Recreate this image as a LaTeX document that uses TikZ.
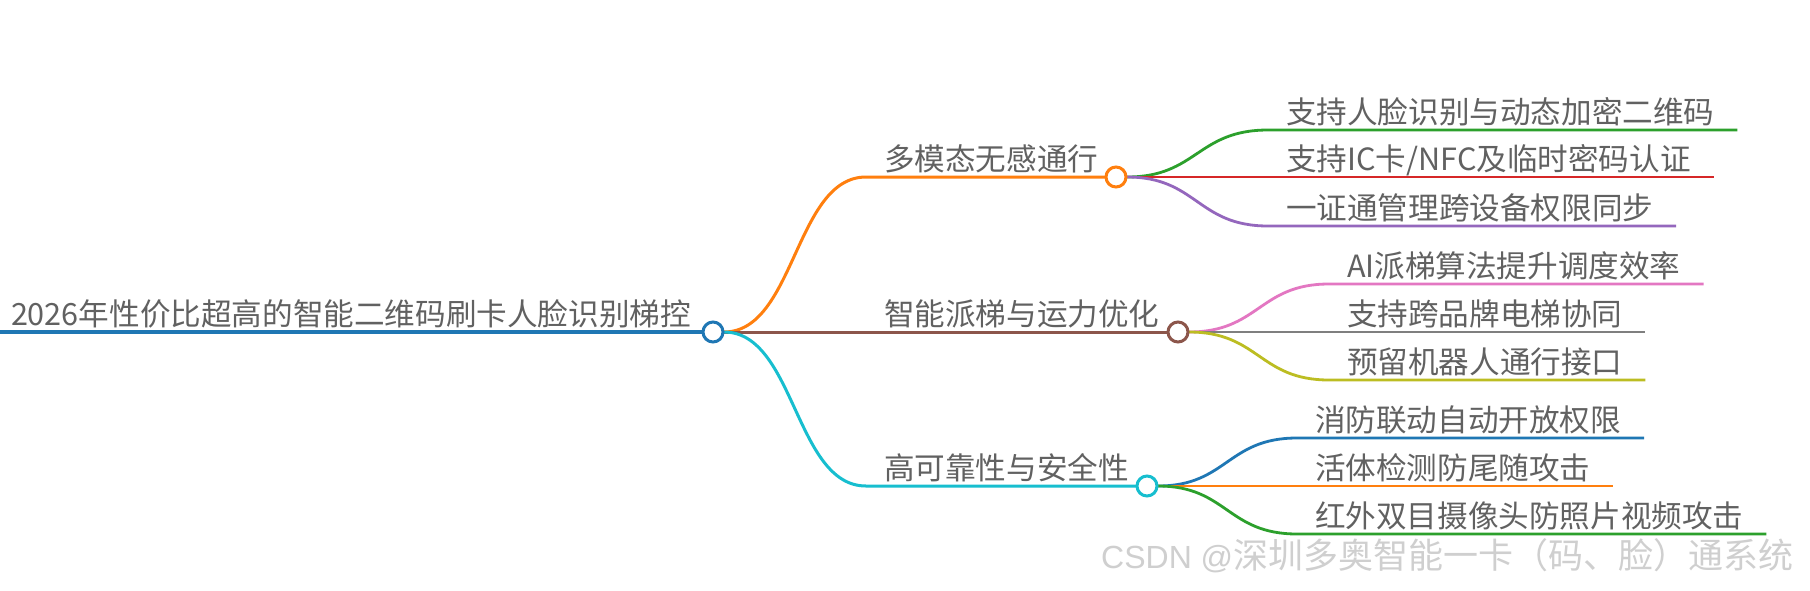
\documentclass[tikz,border=0pt]{standalone}
\usepackage{fontspec}
\setmainfont{Noto Sans CJK SC}
\newfontfamily\wmlatin{Liberation Sans}
\definecolor{tx}{HTML}{616161}
\definecolor{wm}{HTML}{CFCFCF}
\definecolor{cBlue}{HTML}{1F77B4}
\definecolor{cOrange}{HTML}{FF7F0E}
\definecolor{cGreen}{HTML}{2CA02C}
\definecolor{cRed}{HTML}{D62728}
\definecolor{cPurple}{HTML}{9467BD}
\definecolor{cBrown}{HTML}{8C564B}
\definecolor{cPink}{HTML}{E377C2}
\definecolor{cGray}{HTML}{7F7F7F}
\definecolor{cOlive}{HTML}{BCBD22}
\definecolor{cCyan}{HTML}{17BECF}
\begin{document}
\begin{tikzpicture}[x=1pt,y=-1pt,
  lbl/.style={anchor=base west, inner sep=0pt, outer sep=0pt, text=tx, font=\fontsize{30.6}{36}\selectfont},
  dot/.style={circle, draw=#1, fill=white, line width=3pt, minimum size=20pt, inner sep=0pt},
  br/.style={draw=#1, line width=3pt},
  lf/.style={draw=#1, line width=2.8pt}]
\fill[white] (0,0) rectangle (1810,590);
\useasboundingbox (0,0) rectangle (1810,590);

% root
\coordinate (r0) at (0,332);
\node[lbl] (rt) at (11,325) {2026年性价比超高的智能二维码刷卡人脸识别梯控};
\draw[br=cBlue, line width=3.6pt] (r0) -- (713,332);

% level 1 coordinates and labels
\coordinate (ha) at (866,177);
\coordinate (hb) at (866,332);
\coordinate (hc) at (866,486);
\node[lbl] (ta) at (884,170) {多模态无感通行};
\node[lbl] (tb) at (884,325) {智能派梯与运力优化};
\node[lbl] (tc) at (884,479) {高可靠性与安全性};

\draw[br=cOrange] (724,332) .. controls (795,332) and (795,177) .. (ha) -- (1116,177);
\draw[br=cBrown] (724,332) -- (hb) -- (1178,332);
\draw[br=cCyan] (724,332) .. controls (795,332) and (795,486) .. (hc) -- (1147,486);

% leaves of A
\coordinate (a1) at (1268,130);
\coordinate (a2) at (1268,177);
\coordinate (a3) at (1268,226);
\node[lbl] (la1) at (1286,123) {支持人脸识别与动态加密二维码};
\node[lbl] (la2) at (1286,170) {支持IC卡/NFC及临时密码认证};
\node[lbl] (la3) at (1286,219) {一证通管理跨设备权限同步};
\draw[lf=cGreen] (1127,177) .. controls (1197,177) and (1197,130) .. (a1) -- ([xshift=23pt]la1.east |- a1);
\draw[lf=cRed] (1127,177) -- (a2) -- ([xshift=23pt]la2.east |- a2);
\draw[lf=cPurple] (1127,177) .. controls (1197,177) and (1197,226) .. (a3) -- ([xshift=23pt]la3.east |- a3);

% leaves of B
\coordinate (b1) at (1329,284);
\coordinate (b2) at (1329,332);
\coordinate (b3) at (1329,380);
\node[lbl] (lb1) at (1347,277) {AI派梯算法提升调度效率};
\node[lbl] (lb2) at (1347,325) {支持跨品牌电梯协同};
\node[lbl] (lb3) at (1347,373) {预留机器人通行接口};
\draw[lf=cPink] (1189,332) .. controls (1259,332) and (1259,284) .. (b1) -- ([xshift=23pt]lb1.east |- b1);
\draw[lf=cGray] (1189,332) -- (b2) -- ([xshift=23pt]lb2.east |- b2);
\draw[lf=cOlive] (1189,332) .. controls (1259,332) and (1259,380) .. (b3) -- ([xshift=23pt]lb3.east |- b3);

% leaves of C
\coordinate (c1) at (1297,438);
\coordinate (c2) at (1297,486);
\coordinate (c3) at (1297,534);
\node[lbl] (lc1) at (1315,431) {消防联动自动开放权限};
\node[lbl] (lc2) at (1315,479) {活体检测防尾随攻击};
\node[lbl] (lc3) at (1315,527) {红外双目摄像头防照片视频攻击};
\draw[lf=cBlue] (1158,486) .. controls (1227,486) and (1227,438) .. (c1) -- ([xshift=23pt]lc1.east |- c1);
\draw[lf=cOrange] (1158,486) -- (c2) -- ([xshift=23pt]lc2.east |- c2);
\draw[lf=cGreen] (1158,486) .. controls (1227,486) and (1227,534) .. (c3) -- ([xshift=23pt]lc3.east |- c3);

% circles
\node[dot=cBlue] (R) at (713,332) {};
\node[dot=cOrange] (A) at (1116,177) {};
\node[dot=cBrown] (B) at (1178,332) {};
\node[dot=cCyan] (C) at (1147,486) {};

% watermark
\node[anchor=base west, inner sep=0pt, text=wm, font=\fontsize{35}{40}\selectfont] (wmk) at (1101,568) {{\wmlatin\fontsize{32}{40}\selectfont CSDN @}深圳多奥智能一卡（码、脸）通系统};
\end{tikzpicture}
\end{document}
